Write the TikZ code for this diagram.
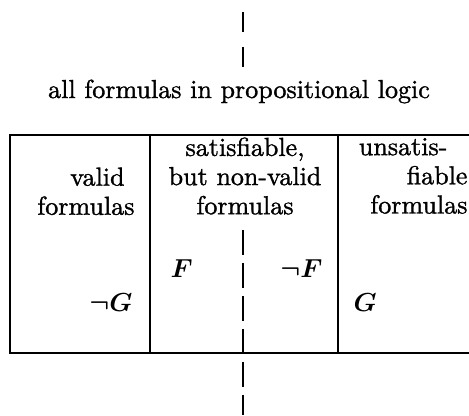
\documentclass[tikz,border=0pt]{standalone}
\usepackage{amsmath,amssymb,bm}
\usepackage{fontspec}
\setmainfont{Latin Modern Roman}[RawFeature={embolden=1.2}]
\usepackage{tikz}
\usetikzlibrary{positioning, calc}

\begin{document}
\begin{tikzpicture}[
    x=0.384pt, y=-0.384pt,
    boxline/.style={line width=0.75pt},
    cutline/.style={line width=0.8pt, dash pattern=on 9.6pt off 3.1pt},
    topcut/.style={line width=0.8pt, dash pattern=on 7.7pt off 5.8pt},
    celltext/.style={inner sep=0pt, font=\fontsize{10}{11.2}\selectfont}
]
    \useasboundingbox (0,0) rectangle (469,415);

    % frame of the three classes (open to the right)
    \coordinate (tl) at (10,135);
    \coordinate (bl) at (10,353);
    \coordinate (tr) at (469,135);
    \coordinate (br) at (469,353);
    \coordinate (d1t) at (150,135);
    \coordinate (d1b) at (150,353);
    \coordinate (d2t) at (338,135);
    \coordinate (d2b) at (338,353);
    \draw[boxline] (br) -- (bl) -- (tl) -- (tr);
    \draw[boxline] (d1t) -- (d1b);
    \draw[boxline] (d2t) -- (d2b);

    % the cut between F and not F
    \coordinate (cuta) at (243,12);
    \coordinate (cutb) at (243,68);
    \coordinate (cutc) at (243,230);
    \coordinate (cutd) at (243,415);
    \draw[topcut] (cuta) -- (cutb);
    \draw[cutline] (cutc) -- (cutd);

    \node[celltext, anchor=base] (all) at (239,98) {all formulas in propositional logic};

    \node[celltext, anchor=north east, align=right] (valid) at (135,167) {valid\kern3.8pt\\formulas};
    \node[celltext, anchor=north, align=center] (satnv) at (245,137) {satisfiable,\\but non-valid\\formulas};
    \node[celltext, anchor=north east, align=right] (unsat) at (468,137.5) {unsatis-\kern7.7pt\\fiable\\formulas};

    \node[celltext, anchor=base west] (F) at (170,277) {$\bm{F}$};
    \node[celltext, anchor=base east] (notF) at (323,277) {$\bm{\neg F}$};
    \node[celltext, anchor=base east] (notG) at (133,311) {$\bm{\neg G}$};
    \node[celltext, anchor=base west] (G) at (353,311) {$\bm{G}$};
\end{tikzpicture}
\end{document}
